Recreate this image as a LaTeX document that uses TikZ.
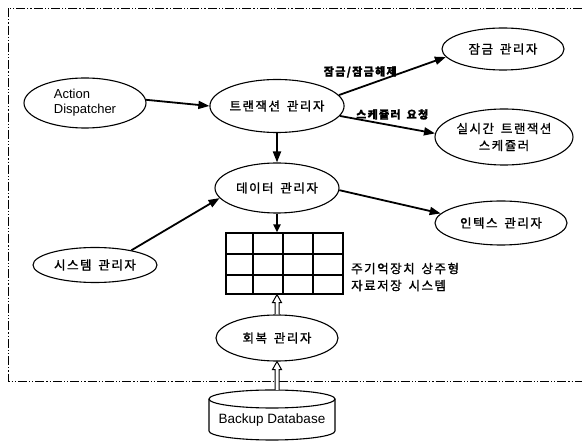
\documentclass[tikz,border=0pt]{standalone}
\usepackage{fontspec}
\setmainfont{Liberation Sans}
\newfontfamily\kr[LetterSpace=12,FakeBold=1.2]{Noto Sans CJK KR}
\usetikzlibrary{shapes.geometric,arrows.meta,calc}
\newcommand\ksp{\hspace{0.55em}}
\begin{document}
\begin{tikzpicture}[x=1pt,y=-1pt,
  ell/.style={ellipse, draw, line width=1.1pt, inner sep=0pt, align=center},
  kt/.style={font=\kr\fontsize{12.5}{17}\selectfont},
  arr/.style={line width=1.8pt, -{Triangle[length=11pt,width=8pt]}},
  lbl/.style={font=\kr\bfseries\fontsize{11}{13}\selectfont, inner sep=0pt},
  hollow/.style={line width=1pt, fill=white},
  border/.style={line width=0.9pt, dash pattern=on 9pt off 2pt on 1.2pt off 2pt on 1.2pt off 2pt}]

\useasboundingbox (0,0) rectangle (582,443);

% outer dash-dot border (right side outside picture)
\draw[border] (582,8) -- (8,8) -- (8,381) -- (582,381);

% nodes
\node[ell, minimum width=122, minimum height=50, font=\fontsize{13}{15}\selectfont, align=left] (ad) at (85,103) {Action\\Dispatcher};
\node[ell, kt, minimum width=120, minimum height=53] (tx) at (277,106) {트랜잭션\ksp 관리자};
\node[ell, kt, minimum width=122, minimum height=42] (lock) at (503,49) {잠금\ksp 관리자};
\node[ell, kt, minimum width=138, minimum height=56] (sched) at (504,137) {실시간\ksp 트랜잭션\\스케쥴러};
\node[ell, kt, minimum width=124, minimum height=50] (data) at (277,188) {데이터\ksp 관리자};
\node[ell, kt, minimum width=132, minimum height=44] (idx) at (501,223) {인텍스\ksp 관리자};
\node[ell, kt, minimum width=124, minimum height=35] (sys) at (95,265) {시스템\ksp 관리자};
\node[ell, kt, minimum width=122, minimum height=46] (recov) at (277,338) {회복\ksp 관리자};

% grid (main memory resident storage)
\node[draw, line width=1.2pt, minimum width=117, minimum height=61, inner sep=0pt] (grid) at (284.5,263.5) {};
\draw[line width=1.2pt] (253,233) -- (253,294) (283,233) -- (283,294) (313,233) -- (313,294)
  (226,254) -- (343,254) (226,275) -- (343,275);
\node[kt, anchor=west, align=left, inner sep=0pt] (glbl) at (351,277) {주기억장치\ksp 상주형\\자료저장\ksp 시스템};

% database cylinder
\draw[line width=1.1pt, fill=white] (209,399) -- (209,431) arc[start angle=180, end angle=0, x radius=63, y radius=9] -- (335,399);
\draw[line width=1.1pt] (272,399) ellipse[x radius=63, y radius=9];
\node[font=\fontsize{13.5}{15}\selectfont] (db) at (272,420) {Backup Database};
\coordinate (dbtop) at (277,390);

% connectors
\draw[arr] (ad.3) -- (tx.180);
\draw[arr] (tx.10) -- node[lbl, pos=0.2, above=9pt] (l1) {잠금/잠금해제} (lock.188);
\draw[arr] (tx.351) -- node[lbl, pos=0.55, above=5pt] (l2) {스케쥴러\ksp 요청} (sched.177);
\draw[arr] (tx.south) -- (data.north);
\draw[arr] (data.358) -- (idx.171);
\draw[arr] (sys.22) -- (data.190);
\draw[line width=2.2pt, -{Triangle[length=8pt,width=7pt]}] (data.south) -- (data.south |- grid.north);

% hollow double-line arrows
\draw[hollow] ($(recov.north)+(-2,0)$) -- ($(grid.south -| recov.north)+(-2,8)$) -- ++(-2.5,0)
  -- ($(grid.south -| recov.north)$) -- ++(4.5,8) -- ++(-2.5,0) -- ($(recov.north)+(2,0)$);
\draw[hollow] ($(dbtop)+(-2,0)$) -- ($(recov.south)+(-2,8)$) -- ++(-2.5,0)
  -- (recov.south) -- ++(4.5,8) -- ++(-2.5,0) -- ($(dbtop)+(2,0)$);
\end{tikzpicture}
\end{document}
